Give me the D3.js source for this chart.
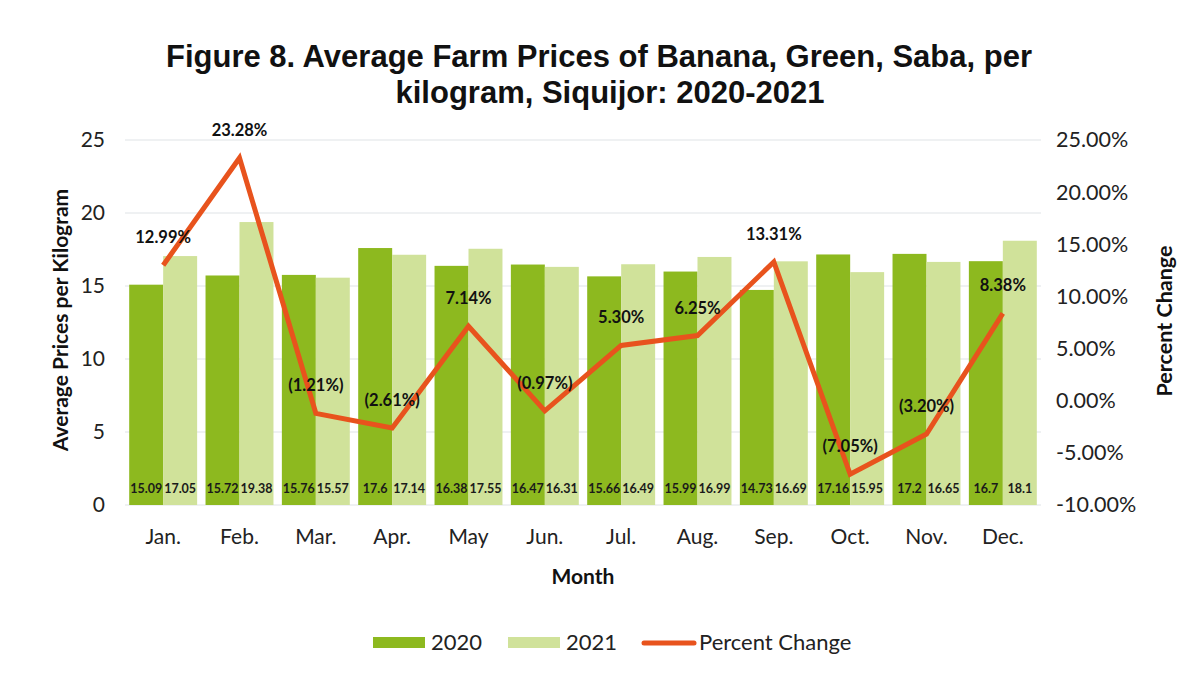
<!DOCTYPE html>
<html><head><meta charset="utf-8">
<script src="https://cdn.jsdelivr.net/npm/d3@7"></script>
<style>body{margin:0;background:#fff}svg{display:block}</style>
</head><body><svg id="c" width="1198" height="674"></svg>
<script>
const months = ["Jan.","Feb.","Mar.","Apr.","May","Jun.","Jul.","Aug.","Sep.","Oct.","Nov.","Dec."];
const prices2020 = [15.09,15.72,15.76,17.6,16.38,16.47,15.66,15.99,14.73,17.16,17.2,16.7];
const prices2021 = [17.05,19.38,15.57,17.14,17.55,16.31,16.49,16.99,16.69,15.95,16.65,18.1];
const pctChange = [12.99,23.28,-1.21,-2.61,7.14,-0.97,5.30,6.25,13.31,-7.05,-3.20,8.38];
const leftTicks = [0,5,10,15,20,25];
const rightTicks = [-10,-5,0,5,10,15,20,25];

const svg = d3.select("#c");
const W=1198,H=674;
const m={l:125,r:1041,t:140,b:505};
const fontTxt = "Lato, 'Open Sans', sans-serif";
const col2020="#8db91f", col2021="#d0e29a", colLine="#e8531d";

svg.append("rect").attr("width",W).attr("height",H).attr("fill","#fff");

const x = d3.scaleBand().domain(months).range([m.l,m.r]).paddingInner(0.11).paddingOuter(0.055);
const xs = d3.scaleBand().domain(["2020","2021"]).range([0,x.bandwidth()]);
const y = d3.scaleLinear().domain([0,25]).range([m.b,m.t]);
const y2 = d3.scaleLinear().domain([-10,25]).range([m.b,m.t]);

// gridlines
svg.append("g").selectAll("line").data(leftTicks).join("line")
  .attr("x1",m.l).attr("x2",m.r).attr("y1",d=>y(d)).attr("y2",d=>y(d))
  .attr("stroke","#dfe3e6").attr("stroke-width",1);

// title
const title = svg.append("text").attr("text-anchor","middle")
  .attr("font-family","'Liberation Sans', Arial, sans-serif").attr("font-weight","bold").attr("font-size",31).attr("fill","#111");
title.append("tspan").attr("x",599).attr("y",67).text("Figure 8. Average Farm Prices of Banana, Green, Saba, per");
title.append("tspan").attr("x",610).attr("y",103).text("kilogram, Siquijor: 2020-2021");

// bars
const g = svg.append("g");
months.forEach((mo,i)=>{
  [["2020",prices2020[i],col2020],["2021",prices2021[i],col2021]].forEach(([s,v,c])=>{
    g.append("rect").attr("x",x(mo)+xs(s)).attr("y",y(v)).attr("width",xs.bandwidth()).attr("height",y(0)-y(v)).attr("fill",c);
    g.append("text").attr("x",x(mo)+xs(s)+xs.bandwidth()/2).attr("y",492.5)
      .attr("text-anchor","middle").attr("font-family",fontTxt).attr("font-weight","bold").attr("font-size",12.5).attr("fill","#1a1a1a")
      .text(v);
  });
});

// left axis
const ax = svg.append("g").attr("transform",`translate(${m.l},0)`)
  .call(d3.axisLeft(y).tickValues(leftTicks).tickSize(0).tickPadding(20));
ax.select(".domain").remove();
ax.selectAll("text").attr("font-family",fontTxt).attr("font-size",21).attr("fill","#222");

// right axis
const ax2 = svg.append("g").attr("transform",`translate(${m.r},0)`)
  .call(d3.axisRight(y2).tickValues(rightTicks).tickSize(0).tickPadding(15).tickFormat(d=>d.toFixed(2)+"%"));
ax2.select(".domain").remove();
ax2.selectAll("text").attr("font-family",fontTxt).attr("font-size",21.5).attr("fill","#222");

// x axis
const ax3 = svg.append("g").attr("transform",`translate(0,${m.b})`)
  .call(d3.axisBottom(x).tickSize(0).tickPadding(24));
ax3.select(".domain").remove();
ax3.selectAll("text").attr("font-family",fontTxt).attr("font-size",21).attr("fill","#222");

// axis titles
svg.append("text").attr("transform","translate(68,320) rotate(-90)").attr("text-anchor","middle")
  .attr("font-family",fontTxt).attr("font-weight","bold").attr("font-size",21).attr("fill","#111").text("Average Prices per Kilogram");
svg.append("text").attr("transform","translate(1172,321) rotate(-90)").attr("text-anchor","middle")
  .attr("font-family",fontTxt).attr("font-weight","bold").attr("font-size",21.5).attr("fill","#111").text("Percent Change");
svg.append("text").attr("x",583).attr("y",584).attr("text-anchor","middle")
  .attr("font-family",fontTxt).attr("font-weight","bold").attr("font-size",21).attr("fill","#111").text("Month");

// line
const cx = mo => x(mo)+x.bandwidth()/2;
const line = d3.line().x((d,i)=>cx(months[i])).y(d=>y2(d));
svg.append("path").datum(pctChange).attr("d",line).attr("fill","none")
  .attr("stroke",colLine).attr("stroke-width",5).attr("stroke-linejoin","miter");

// percent labels
const fmtPct = v => v<0 ? "("+Math.abs(v).toFixed(2)+"%)" : v.toFixed(2)+"%";
svg.append("g").selectAll("text").data(pctChange).join("text")
  .attr("x",(d,i)=>cx(months[i]))
  .attr("y",(d,i)=>y2(d) - 22)
  .attr("text-anchor","middle").attr("font-family",fontTxt).attr("font-weight","bold").attr("font-size",16.5).attr("fill","#111")
  .text(fmtPct);

// legend
const lg = svg.append("g").attr("font-family",fontTxt).attr("font-size",22).attr("fill","#222");
lg.append("rect").attr("x",373).attr("y",637).attr("width",52).attr("height",11).attr("fill",col2020);
lg.append("text").attr("x",431).attr("y",650).text("2020");
lg.append("rect").attr("x",508).attr("y",637).attr("width",52).attr("height",11).attr("fill",col2021);
lg.append("text").attr("x",566).attr("y",650).text("2021");
lg.append("line").attr("x1",644).attr("x2",694).attr("y1",643).attr("y2",643).attr("stroke",colLine).attr("stroke-width",5).attr("stroke-linecap","round");
lg.append("text").attr("x",699).attr("y",650).text("Percent Change");
</script></body></html>
